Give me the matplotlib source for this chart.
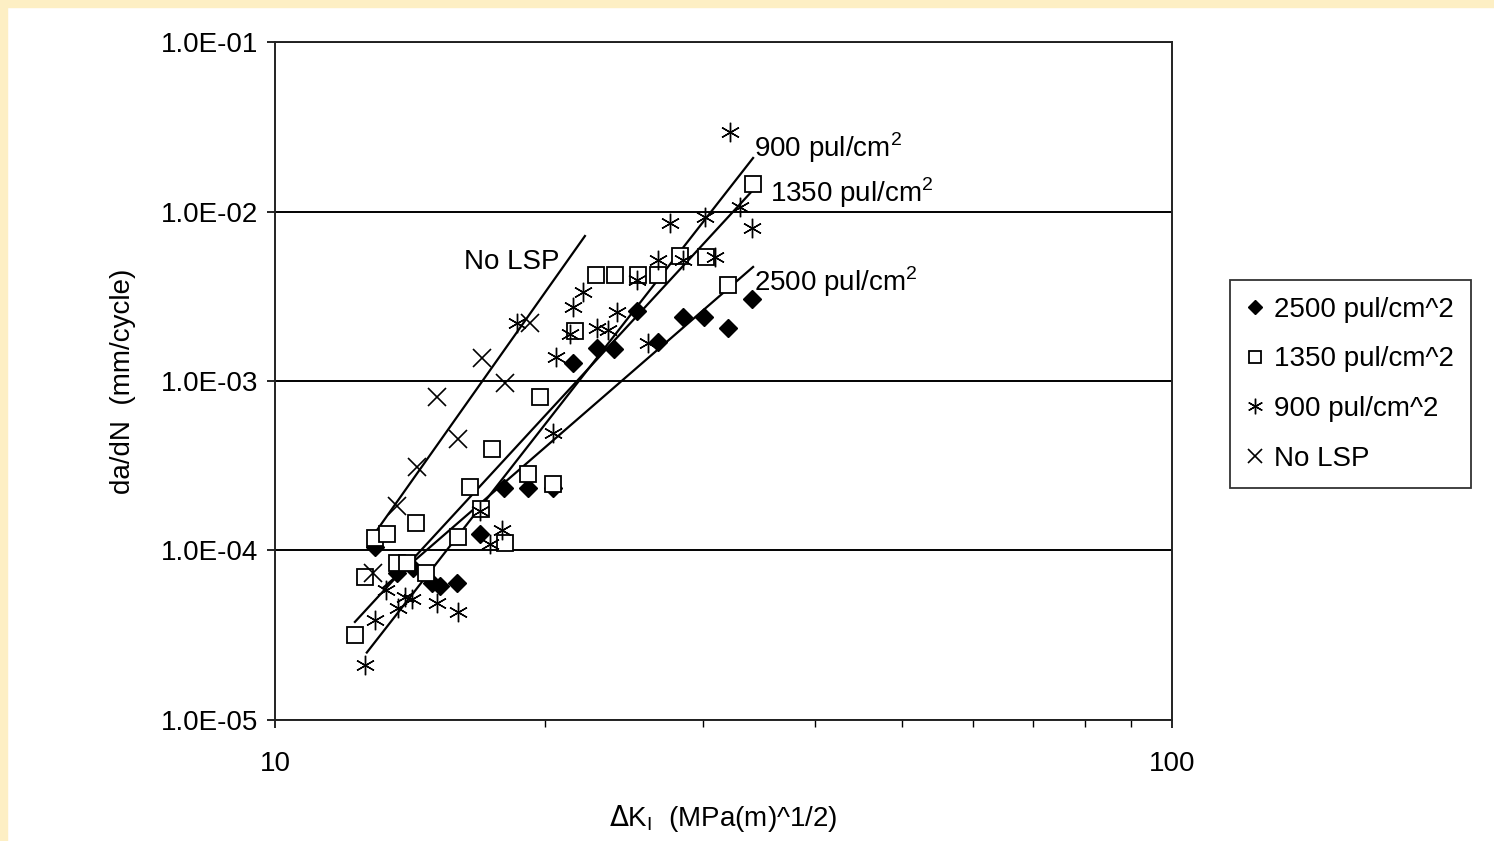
import matplotlib
matplotlib.use("Agg")
import matplotlib.pyplot as plt
from matplotlib.patches import Rectangle

plt.rcParams['font.family'] = ['Liberation Sans', 'DejaVu Sans']

# 2500 pul/cm^2 (filled diamonds)
dk_2500 = [12.93, 13.68, 14.25, 14.96, 15.27, 15.95, 16.93, 18.00, 19.14, 20.42,
           21.49, 22.86, 23.9, 25.3, 26.7, 28.5, 30.1, 32.0, 34.0]
da_2500 = [1.05e-4, 7.4e-5, 7.9e-5, 6.4e-5, 6.2e-5, 6.4e-5, 1.25e-4, 2.34e-4, 2.34e-4, 2.34e-4,
           1.28e-3, 1.57e-3, 1.55e-3, 2.58e-3, 1.69e-3, 2.39e-3, 2.39e-3, 2.05e-3, 3.03e-3]

# 1350 pul/cm^2 (open squares)
dk_1350 = [12.28, 12.60, 12.93, 13.35, 13.68, 14.03, 14.36, 14.74, 16.00, 16.50,
           16.97, 17.46, 18.05, 19.14, 19.75, 20.42, 21.6, 22.8, 23.93, 25.39,
           26.73, 28.3, 30.2, 32.0, 34.12]
da_1350 = [3.17e-5, 7.0e-5, 1.18e-4, 1.25e-4, 8.4e-5, 8.4e-5, 1.45e-4, 7.4e-5, 1.20e-4, 2.37e-4,
           1.76e-4, 3.97e-4, 1.11e-4, 2.82e-4, 8.0e-4, 2.47e-4, 1.97e-3, 4.2e-3, 4.2e-3, 4.2e-3,
           4.2e-3, 5.5e-3, 5.4e-3, 3.7e-3, 1.45e-2]

# 900 pul/cm^2 (asterisks)
dk_900 = [12.60, 12.93, 13.29, 13.72, 13.96, 14.2, 15.16, 16.00, 16.93, 17.37,
          17.9, 18.61, 20.42, 20.6, 21.3, 21.5, 22.05, 22.86, 23.5, 24.06,
          25.33, 26.05, 26.73, 27.57, 28.5, 30.15, 30.93, 32.15, 32.99, 34.0]
da_900 = [2.1e-5, 3.9e-5, 5.85e-5, 4.6e-5, 5.3e-5, 5.2e-5, 4.9e-5, 4.34e-5, 1.7e-4, 1.09e-4,
          1.32e-4, 2.2e-3, 4.93e-4, 1.39e-3, 1.9e-3, 2.73e-3, 3.35e-3, 2.05e-3, 2.0e-3, 2.55e-3,
          3.94e-3, 1.68e-3, 5.18e-3, 8.6e-3, 5.18e-3, 9.3e-3, 5.39e-3, 2.94e-2, 1.06e-2, 8.0e-3]

# No LSP (crosses)
dk_nolsp = [12.86, 13.68, 14.4, 15.16, 16.0, 17.0, 18.05, 19.24]
da_nolsp = [7.4e-5, 1.83e-4, 3.09e-4, 8.0e-4, 4.55e-4, 1.37e-3, 9.7e-4, 2.2e-3]

# power-law fit lines (end points)
fit_nolsp = ([12.76, 22.16], [1.15e-4, 7.17e-3])
fit_900 = ([12.66, 34.12], [2.50e-5, 2.07e-2])
fit_1350 = ([12.28, 34.12], [3.79e-5, 1.34e-2])
fit_2500 = ([13.19, 34.12], [6.0e-5, 4.71e-3])

fig = plt.figure(figsize=(14.94, 8.41), dpi=100)
ax = fig.add_axes([0.184, 0.1439, 0.6005, 0.8061])

for fx, fy in [fit_nolsp, fit_900, fit_1350, fit_2500]:
    ax.plot(fx, fy, color='black', lw=1.6, zorder=3)

ax.plot(dk_2500, da_2500, ls='none', marker='D', ms=9, color='black',
        label='2500 pul/cm^2', zorder=4)
ax.plot(dk_1350, da_1350, ls='none', marker='s', ms=11, mfc='white', mec='black',
        mew=1.3, label='1350 pul/cm^2', zorder=4)
ax.plot(dk_900, da_900, ls='none', marker=(6, 2, 0), ms=14, color='black',
        mew=1.0, label='900 pul/cm^2', zorder=4)
ax.plot(dk_nolsp, da_nolsp, ls='none', marker='x', ms=13, color='black',
        mew=1.2, label='No LSP', zorder=4)

ax.set_xscale('log')
ax.set_yscale('log')
ax.set_xlim(10, 100)
ax.set_ylim(1e-5, 1e-1)

ax.set_yticks([1e-5, 1e-4, 1e-3, 1e-2, 1e-1])
ax.set_yticklabels(['1.0E-05', '1.0E-04', '1.0E-03', '1.0E-02', '1.0E-01'])
ax.yaxis.set_minor_locator(matplotlib.ticker.NullLocator())
ax.set_xticks([10, 100])
ax.set_xticklabels(['10', '100'])
ax.xaxis.set_minor_formatter(matplotlib.ticker.NullFormatter())
ax.tick_params(axis='both', which='major', labelsize=20, length=6, width=1.2,
               direction='out', pad=6)
ax.tick_params(axis='x', which='minor', length=5, width=1.0, direction='out')
ax.tick_params(axis='x', which='major', pad=16)

ax.grid(True, axis='y', which='major', color='black', lw=1.4)
for s in ax.spines.values():
    s.set_color('#222222')
    s.set_linewidth(1.4)

ax.set_ylabel('da/dN  (mm/cycle)', fontsize=20, labelpad=18)
ax.set_xlabel(r'$\Delta$K$_\mathregular{I}$  (MPa(m)^1/2)', fontsize=20, labelpad=19)

ax.text(20.78, 5.04e-3, 'No LSP', fontsize=20, ha='right', va='center')
ax.text(34.2, 2.37e-2, '900 pul/cm$^\\mathregular{2}$', fontsize=20, ha='left', va='center')
ax.text(35.6, 1.285e-2, '1350 pul/cm$^\\mathregular{2}$', fontsize=20, ha='left', va='center')
ax.text(34.2, 3.84e-3, '2500 pul/cm$^\\mathregular{2}$', fontsize=20, ha='left', va='center')

leg = fig.legend(loc='upper left', bbox_to_anchor=(0.823, 0.667), fontsize=20,
                 frameon=True, fancybox=False, edgecolor='black', handlelength=0.6,
                 handletextpad=0.4, borderpad=0.6, labelspacing=0.85, markerscale=0.8,
                 borderaxespad=0)
leg.get_frame().set_linewidth(1.3)

# cream border strips at top and left
fig.patches.append(Rectangle((0, 1 - 7 / 841), 1, 7 / 841, transform=fig.transFigure,
                             color='#fdefc4', zorder=0))
fig.patches.append(Rectangle((0, 0), 7 / 1494, 1, transform=fig.transFigure,
                             color='#fdefc4', zorder=0))

fig.savefig('out.png', dpi=100)
